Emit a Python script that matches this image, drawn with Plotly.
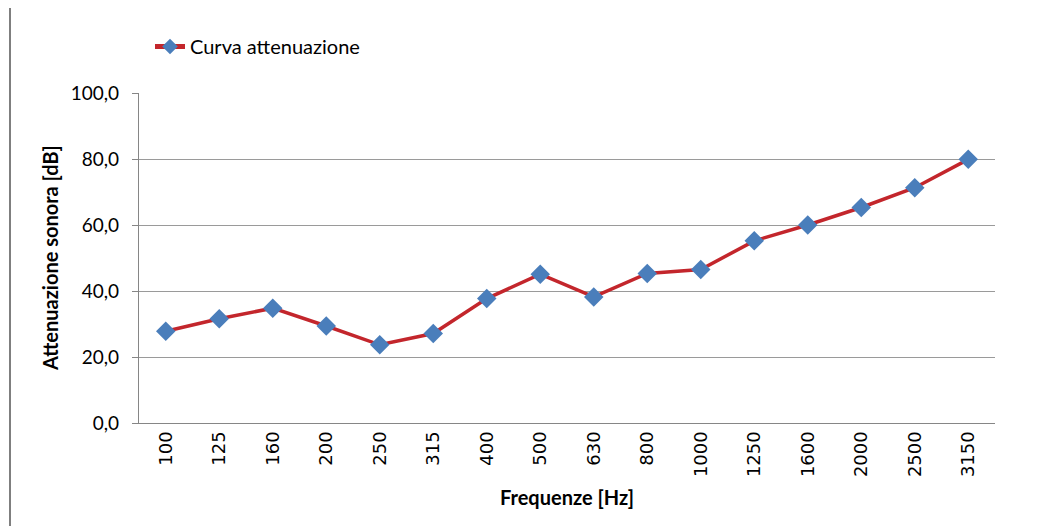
import plotly.graph_objects as go

frequencies = ["100", "125", "160", "200", "250", "315", "400", "500", "630",
               "800", "1000", "1250", "1600", "2000", "2500", "3150"]
attenuation = [27.8, 31.6, 34.8, 29.4, 23.7, 27.1, 37.7, 45.1, 38.2,
               45.3, 46.5, 55.2, 60.0, 65.3, 71.3, 79.9]
y_ticks = [0, 20, 40, 60, 80, 100]
series_name = "Curva attenuazione"
x_title = "Frequenze [Hz]"
y_title = "Attenuazione sonora [dB]"

fig = go.Figure()
fig.add_trace(go.Scatter(
    x=frequencies, y=attenuation, mode="lines+markers", name=series_name,
    line=dict(color="#C3262C", width=3.5),
    marker=dict(symbol="diamond", size=15, color="#4A7EBB",
                line=dict(width=0)),
))

# Page body has an 8px margin in the browser, so the figure is sized to fit.
W, H = 1032, 518
L, T, R, B = 131, 85, 45, 103
PW, PH = W - L - R, H - T - B
font_family = "Lato, 'Open Sans', sans-serif"
fig.update_layout(
    width=W, height=H,
    margin=dict(l=L, r=R, t=T, b=B, autoexpand=False),
    paper_bgcolor="white", plot_bgcolor="white",
    separators=",.",
    font=dict(family=font_family, color="#000000", size=16),
    showlegend=True,
    legend=dict(x=142 / W, y=1 - 19 / H, xref="container", yref="container",
                xanchor="left", yanchor="top",
                font=dict(size=20, family=font_family),
                bgcolor="rgba(0,0,0,0)", itemsizing="constant",
                traceorder="normal"),
    xaxis=dict(
        type="category", tickangle=-90, showgrid=False,
        showline=True, linecolor="#868686", linewidth=1.2,
        ticks="", tickfont=dict(size=18, family="'DejaVu Sans', sans-serif"),
        range=[-0.5, len(frequencies) - 0.5],
    ),
    yaxis=dict(
        range=[0, 100], tickvals=y_ticks, tickformat=".1f",
        showgrid=True, gridcolor="#9A9A9A", gridwidth=1.2,
        showline=True, linecolor="#868686", linewidth=1.2,
        ticks="outside", ticklen=6, tickcolor="#868686",
        tickfont=dict(size=19), zeroline=False, ticklabelstandoff=9,
    ),
    annotations=[
        dict(text=f"<b>{y_title}</b>", textangle=-90, showarrow=False,
             xref="paper", yref="paper", x=(42 - L) / PW, y=0.5,
             xanchor="center", yanchor="middle", font=dict(size=20)),
        dict(text=f"<b>{x_title}</b>", showarrow=False,
             xref="paper", yref="paper", x=0.5, y=(T + PH - 489) / PH,
             xanchor="center", yanchor="middle", font=dict(size=20)),
    ],
)

# Page border line on the left
fig.add_shape(type="line", xref="paper", yref="paper",
              x0=(2 - L) / PW, x1=(2 - L) / PW, y0=-0.32, y1=1.3,
              line=dict(color="#7F7F7F", width=2))

fig.write_html("out.html")
